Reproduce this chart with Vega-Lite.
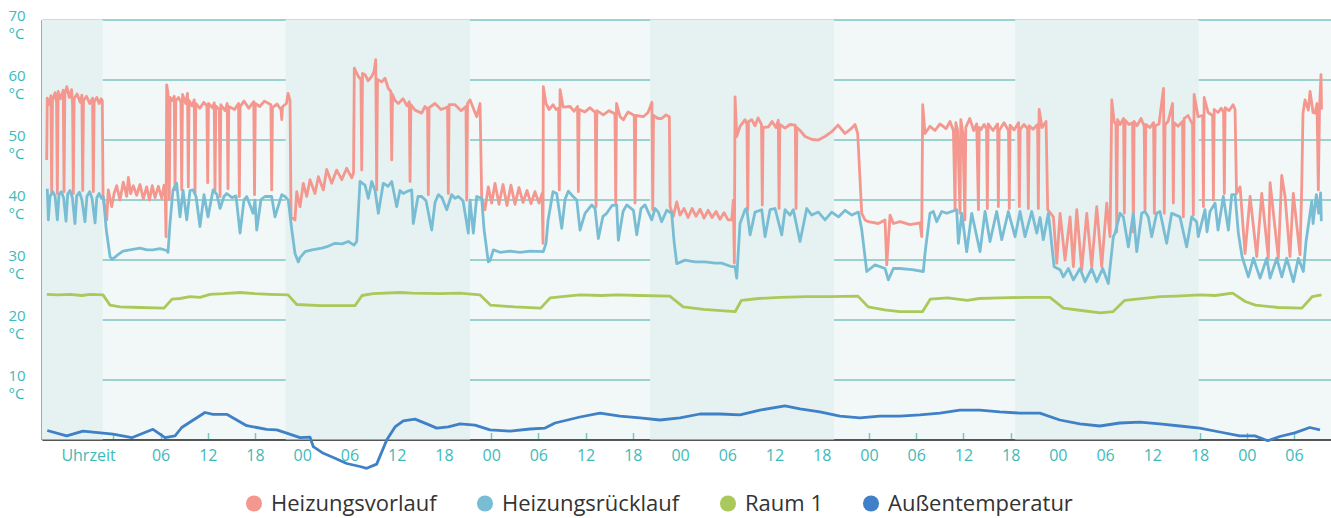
{
"$schema":"https://vega.github.io/schema/vega-lite/v6.json",
"width":1289,"height":420,
"autosize":{"type":"none"},
"padding":{"left":42,"top":19.5,"right":0,"bottom":78.5},
"background":"white",
"config":{"view":{"stroke":null,"fill":"#F2F8F7"},"font":"Open Sans"},
"layer":[
{"data":{"values":[{"a":-9.06,"b":-1.35},{"a":21.9,"b":45.32},{"a":68.19,"b":91.57},{"a":114.57,"b":137.88}]},
"mark":{"type":"rect","color":"#E5F2F1"},
"encoding":{"x":{"field":"a","type":"quantitative","scale":{"domain":[-9.06,154.7],"nice":false,"zero":false},
"axis":{"values":[-6,0,6,12,18,24,30,36,42,48,54,60,66,72,78,84,90,96,102,108,114,120,126,132,138,144,150],
"labelExpr":"datum.value < 1 ? '' : format(((datum.value % 24) + 24) % 24, '02d')",
"title":"Uhrzeit","titleX":46,"titleY":16,"titleAlign":"center","titleBaseline":"middle","titleAnchor":"start","titleFontWeight":"normal","titleFontSize":16,"titleColor":"#3DBABA",
"labelColor":"#3DBABA","labelFontSize":16,"labelPadding":15,"tickColor":"#7CC6C2","tickSize":-7,"tickWidth":1.5,"domainColor":"#555","domainWidth":2,"grid":false,"labelOverlap":false,"labelFlush":false}},
"x2":{"field":"b"}}},
{"data":{"values":[
{"h":-8.46,"V":46.6},{"h":-8.39,"V":56.9},{"h":-8.1,"V":55.8},{"h":-7.93,"V":57.3},{"h":-7.83,"V":41.2},{"h":-7.73,"V":56.5},{"h":-7.4,"V":57.8},{"h":-7.21,"V":56.2},{"h":-7.11,"V":41.0},{"h":-7.01,"V":58.0},{"h":-6.7,"V":56.8},{"h":-6.36,"V":58.2},{"h":-6.26,"V":41.3},{"h":-6.16,"V":57.5},{"h":-5.9,"V":58.8},{"h":-5.6,"V":57.0},{"h":-5.3,"V":58.3},{"h":-5.18,"V":56.0},{"h":-5.08,"V":41.0},{"h":-4.98,"V":56.8},{"h":-4.6,"V":57.6},{"h":-4.2,"V":56.2},{"h":-3.99,"V":57.4},{"h":-3.89,"V":41.5},{"h":-3.79,"V":56.5},{"h":-3.4,"V":57.2},{"h":-3.0,"V":56.0},{"h":-2.64,"V":56.9},{"h":-2.54,"V":41.3},{"h":-2.44,"V":56.3},{"h":-2.1,"V":57.0},{"h":-1.8,"V":56.0},{"h":-1.55,"V":56.8},{"h":-1.4,"V":56.5},{"h":-1.3,"V":40.5},
{"h":-0.84,"V":36.6},{"h":-0.64,"V":41.6},{"h":-0.2,"V":38.8},{"h":0.1,"V":41.0},{"h":0.43,"V":42.3},{"h":0.85,"V":39.9},{"h":1.27,"V":42.9},{"h":1.7,"V":40.5},{"h":1.91,"V":43.7},{"h":2.2,"V":41.0},{"h":2.54,"V":42.3},{"h":2.97,"V":40.7},{"h":3.39,"V":42.5},{"h":3.81,"V":40.1},{"h":4.24,"V":42.1},{"h":4.6,"V":39.9},{"h":4.95,"V":42.3},{"h":5.3,"V":40.3},{"h":5.72,"V":42.2},{"h":6.15,"V":40.2},{"h":6.45,"V":42.4},{"h":6.6,"V":40.5},{"h":6.7,"V":33.8},{"h":6.78,"V":59.1},
{"h":6.95,"V":57.7},{"h":7.11,"V":40.0},{"h":7.22,"V":57.0},{"h":7.5,"V":56.5},{"h":7.74,"V":57.2},{"h":7.84,"V":41.6},{"h":7.94,"V":56.5},{"h":8.3,"V":57.0},{"h":8.59,"V":56.2},{"h":8.69,"V":41.6},{"h":8.79,"V":57.5},{"h":9.2,"V":56.0},{"h":9.43,"V":57.7},{"h":9.53,"V":42.1},{"h":9.63,"V":56.5},{"h":10.0,"V":55.6},{"h":10.28,"V":56.6},{"h":10.38,"V":41.0},{"h":10.48,"V":56.0},{"h":11.0,"V":55.2},{"h":11.5,"V":56.2},{"h":11.89,"V":55.6},{"h":11.99,"V":42.8},{"h":12.09,"V":56.0},{"h":12.6,"V":55.3},{"h":12.82,"V":56.1},{"h":12.92,"V":41.5},{"h":13.02,"V":55.6},{"h":13.46,"V":55.0},{"h":13.56,"V":40.5},{"h":13.66,"V":55.8},{"h":14.2,"V":54.8},{"h":14.47,"V":56.0},{"h":14.57,"V":41.8},{"h":14.67,"V":55.5},{"h":15.4,"V":55.0},{"h":15.91,"V":56.0},{"h":16.01,"V":40.5},{"h":16.11,"V":55.5},{"h":16.6,"V":56.4},{"h":17.2,"V":55.2},{"h":17.84,"V":56.3},{"h":17.94,"V":40.8},{"h":18.04,"V":56.0},{"h":18.6,"V":55.5},{"h":19.2,"V":56.4},{"h":20.02,"V":55.8},{"h":20.12,"V":41.6},{"h":20.22,"V":55.3},{"h":20.8,"V":55.9},{"h":21.3,"V":55.0},{"h":21.4,"V":53.3},{"h":21.5,"V":55.5},{"h":22.0,"V":56.0},{"h":22.2,"V":57.7},{"h":22.45,"V":56.5},{"h":22.58,"V":37.1},
{"h":23.08,"V":36.6},{"h":23.3,"V":41.3},{"h":23.72,"V":38.8},{"h":24.14,"V":42.7},{"h":24.57,"V":40.5},{"h":24.99,"V":43.3},{"h":25.62,"V":41.0},{"h":26.05,"V":43.8},{"h":26.68,"V":41.6},{"h":27.11,"V":45.0},{"h":27.75,"V":42.7},{"h":28.38,"V":44.9},{"h":29.02,"V":43.3},{"h":29.65,"V":45.2},{"h":30.29,"V":43.6},{"h":30.52,"V":44.5},{"h":30.62,"V":61.9},
{"h":31.13,"V":60.5},{"h":31.46,"V":60.0},{"h":31.56,"V":44.9},{"h":31.66,"V":61.0},{"h":31.98,"V":60.8},{"h":32.36,"V":59.8},{"h":32.83,"V":60.5},{"h":33.12,"V":61.3},{"h":33.34,"V":63.3},{"h":33.46,"V":41.6},{"h":33.56,"V":60.0},{"h":34.1,"V":59.6},{"h":34.52,"V":60.2},{"h":34.94,"V":58.5},{"h":35.27,"V":58.0},{"h":35.37,"V":46.6},{"h":35.47,"V":57.5},{"h":35.79,"V":56.5},{"h":36.21,"V":56.0},{"h":36.81,"V":56.8},{"h":37.31,"V":55.6},{"h":37.6,"V":56.3},{"h":37.7,"V":43.0},{"h":37.8,"V":55.8},{"h":38.33,"V":54.9},{"h":39.18,"V":54.4},{"h":39.6,"V":55.5},{"h":39.92,"V":55.0},{"h":40.02,"V":40.8},{"h":40.12,"V":55.3},{"h":40.87,"V":56.0},{"h":41.63,"V":55.0},{"h":42.46,"V":55.4},{"h":42.56,"V":41.0},{"h":42.66,"V":55.8},{"h":43.41,"V":55.8},{"h":44.18,"V":54.8},{"h":44.8,"V":55.5},{"h":44.9,"V":39.9},{"h":45.0,"V":56.0},{"h":45.32,"V":56.6},{"h":46.17,"V":53.8},{"h":46.59,"V":56.0},{"h":46.8,"V":40.3},
{"h":47.22,"V":38.3},{"h":47.64,"V":42.1},{"h":48.07,"V":39.4},{"h":48.49,"V":42.7},{"h":49.0,"V":39.2},{"h":49.51,"V":42.5},{"h":50.01,"V":39.0},{"h":50.52,"V":42.4},{"h":51.03,"V":39.2},{"h":51.54,"V":42.0},{"h":52.05,"V":39.5},{"h":52.56,"V":41.5},{"h":53.06,"V":39.3},{"h":53.57,"V":41.3},{"h":54.08,"V":39.4},{"h":54.47,"V":41.0},{"h":54.59,"V":32.7},{"h":54.63,"V":58.8},
{"h":54.97,"V":56.0},{"h":55.36,"V":55.0},{"h":55.87,"V":55.8},{"h":56.25,"V":55.0},{"h":56.56,"V":55.2},{"h":56.66,"V":41.6},{"h":56.76,"V":58.3},{"h":57.14,"V":55.4},{"h":58.03,"V":55.5},{"h":58.54,"V":54.7},{"h":58.98,"V":55.5},{"h":59.08,"V":41.3},{"h":59.18,"V":55.0},{"h":59.92,"V":54.6},{"h":60.56,"V":55.3},{"h":61.23,"V":54.5},{"h":61.33,"V":38.8},{"h":61.43,"V":54.8},{"h":62.25,"V":54.1},{"h":62.98,"V":54.8},{"h":63.73,"V":54.3},{"h":63.83,"V":39.4},{"h":63.93,"V":56.0},{"h":64.38,"V":53.8},{"h":64.8,"V":53.3},{"h":65.39,"V":54.6},{"h":66.18,"V":54.0},{"h":66.28,"V":39.4},{"h":66.38,"V":54.0},{"h":67.34,"V":53.8},{"h":67.93,"V":54.5},{"h":68.43,"V":56.2},{"h":68.53,"V":38.3},{"h":68.63,"V":54.0},{"h":69.2,"V":53.5},{"h":69.67,"V":53.5},{"h":70.22,"V":54.1},{"h":70.64,"V":53.8},{"h":70.74,"V":38.8},
{"h":71.15,"V":37.2},{"h":71.58,"V":39.6},{"h":72.0,"V":37.4},{"h":72.51,"V":38.5},{"h":73.02,"V":37.0},{"h":73.53,"V":38.5},{"h":74.03,"V":37.2},{"h":74.54,"V":38.4},{"h":75.05,"V":36.9},{"h":75.56,"V":38.2},{"h":76.07,"V":37.0},{"h":76.57,"V":38.0},{"h":77.08,"V":36.7},{"h":77.59,"V":37.8},{"h":78.1,"V":36.6},{"h":78.57,"V":36.6},{"h":78.77,"V":39.9},{"h":78.9,"V":29.4},{"h":78.99,"V":57.1},
{"h":79.2,"V":50.5},{"h":79.62,"V":52.2},{"h":80.26,"V":53.3},{"h":80.5,"V":52.5},{"h":80.6,"V":38.3},{"h":80.7,"V":53.0},{"h":81.11,"V":53.3},{"h":81.53,"V":52.3},{"h":81.91,"V":53.6},{"h":82.35,"V":52.5},{"h":82.45,"V":39.1},{"h":82.55,"V":52.0},{"h":83.22,"V":52.1},{"h":83.69,"V":53.0},{"h":84.19,"V":52.0},{"h":84.48,"V":53.2},{"h":84.58,"V":38.5},{"h":84.68,"V":52.5},{"h":85.34,"V":51.9},{"h":85.97,"V":52.5},{"h":86.64,"V":52.4},{"h":86.74,"V":38.5},{"h":86.84,"V":52.0},{"h":87.25,"V":51.5},{"h":87.89,"V":50.5},{"h":88.78,"V":50.0},{"h":89.57,"V":49.9},{"h":90.42,"V":50.5},{"h":91.27,"V":51.3},{"h":92.07,"V":52.4},{"h":92.96,"V":51.0},{"h":93.81,"V":51.9},{"h":94.23,"V":52.5},{"h":94.57,"V":51.0},{"h":95.08,"V":37.7},
{"h":95.5,"V":36.6},{"h":95.92,"V":36.3},{"h":97.19,"V":36.0},{"h":98.04,"V":36.6},{"h":98.26,"V":29.1},{"h":98.68,"V":37.4},{"h":99.1,"V":36.0},{"h":99.95,"V":36.3},{"h":101.22,"V":35.8},{"h":102.49,"V":36.1},{"h":102.7,"V":33.8},{"h":102.83,"V":55.8},{"h":103.12,"V":51.0},
{"h":103.75,"V":52.2},{"h":104.39,"V":51.5},{"h":105.02,"V":52.6},{"h":105.79,"V":51.8},{"h":106.3,"V":53.0},{"h":106.73,"V":51.5},{"h":106.94,"V":38.3},{"h":107.04,"V":52.8},{"h":107.26,"V":51.5},{"h":107.57,"V":37.7},{"h":107.67,"V":53.3},{"h":107.93,"V":51.0},{"h":108.19,"V":36.6},{"h":108.3,"V":52.0},{"h":108.8,"V":53.5},{"h":109.31,"V":51.5},{"h":109.69,"V":52.6},{"h":109.91,"V":38.3},{"h":110.01,"V":52.0},{"h":110.2,"V":51.6},{"h":110.62,"V":52.5},{"h":110.94,"V":51.8},{"h":111.04,"V":38.5},{"h":111.14,"V":52.6},{"h":111.76,"V":51.5},{"h":112.34,"V":52.6},{"h":112.44,"V":38.8},{"h":112.54,"V":51.5},{"h":113.16,"V":52.8},{"h":113.73,"V":51.5},{"h":113.83,"V":38.5},{"h":113.93,"V":52.4},{"h":114.43,"V":51.6},{"h":115.01,"V":52.8},{"h":115.11,"V":38.8},{"h":115.21,"V":51.7},{"h":115.7,"V":52.5},{"h":116.15,"V":51.8},{"h":116.25,"V":38.5},{"h":116.35,"V":52.3},{"h":116.85,"V":51.7},{"h":117.42,"V":52.5},{"h":117.52,"V":38.5},{"h":117.62,"V":55.0},{"h":117.99,"V":52.0},{"h":118.5,"V":53.0},{"h":118.71,"V":38.3},
{"h":119.43,"V":37.1},{"h":119.86,"V":29.4},{"h":120.28,"V":37.7},{"h":120.91,"V":29.9},{"h":121.55,"V":37.1},{"h":121.97,"V":28.8},{"h":122.4,"V":38.3},{"h":123.03,"V":28.3},{"h":123.67,"V":37.7},{"h":124.3,"V":28.8},{"h":124.94,"V":38.8},{"h":125.57,"V":28.8},{"h":126.21,"V":39.4},{"h":126.63,"V":33.8},{"h":126.85,"V":56.6},
{"h":127.14,"V":53.0},{"h":127.38,"V":52.5},{"h":127.48,"V":34.6},{"h":127.58,"V":53.3},{"h":127.9,"V":52.5},{"h":128.35,"V":53.5},{"h":128.45,"V":37.7},{"h":128.55,"V":53.2},{"h":129.04,"V":52.5},{"h":129.49,"V":52.8},{"h":129.59,"V":34.6},{"h":129.69,"V":53.0},{"h":130.06,"V":52.3},{"h":130.57,"V":53.5},{"h":130.97,"V":52.2},{"h":131.07,"V":38.3},{"h":131.17,"V":52.5},{"h":131.71,"V":52.0},{"h":132.16,"V":52.8},{"h":132.26,"V":37.7},{"h":132.36,"V":52.3},{"h":132.85,"V":52.6},{"h":133.42,"V":58.5},{"h":133.52,"V":37.7},{"h":133.62,"V":52.5},{"h":134.0,"V":53.0},{"h":134.57,"V":56.0},{"h":134.67,"V":39.4},{"h":134.77,"V":52.8},{"h":135.27,"V":52.2},{"h":135.84,"V":53.0},{"h":135.94,"V":37.1},{"h":136.04,"V":53.5},{"h":136.54,"V":54.0},{"h":137.11,"V":52.5},{"h":137.21,"V":37.4},{"h":137.31,"V":57.5},{"h":137.81,"V":53.8},{"h":138.39,"V":54.0},{"h":138.49,"V":38.8},{"h":138.59,"V":57.0},{"h":139.09,"V":54.5},{"h":139.66,"V":54.0},{"h":139.76,"V":39.9},{"h":139.86,"V":55.0},{"h":140.36,"V":54.5},{"h":140.74,"V":55.2},{"h":141.05,"V":54.6},{"h":141.15,"V":41.0},{"h":141.25,"V":55.3},{"h":141.75,"V":54.8},{"h":142.26,"V":55.8},{"h":142.51,"V":55.0},{"h":142.7,"V":41.0},
{"h":143.15,"V":42.1},{"h":143.78,"V":31.0},{"h":144.42,"V":40.5},{"h":145.27,"V":30.5},{"h":145.9,"V":41.0},{"h":146.74,"V":30.2},{"h":146.96,"V":42.8},{"h":148.01,"V":30.2},{"h":148.44,"V":44.0},{"h":148.86,"V":40.5},{"h":149.49,"V":30.5},{"h":149.91,"V":41.0},{"h":150.76,"V":30.8},{"h":150.98,"V":42.0},
{"h":151.14,"V":54.4},{"h":151.4,"V":56.6},{"h":151.82,"V":54.9},{"h":152.04,"V":58.0},{"h":152.42,"V":54.5},{"h":152.67,"V":54.4},{"h":152.92,"V":56.0},{"h":153.09,"V":41.6},{"h":153.24,"V":55.0},{"h":153.43,"V":60.8},{"h":153.5,"V":55.0},
{"h":-8.39,"R":41.8},{"h":-8.25,"R":36.6},{"h":-8.05,"R":40.5},{"h":-7.7,"R":41.3},{"h":-7.4,"R":40.6},{"h":-7.11,"R":36.6},{"h":-6.9,"R":40.8},{"h":-6.6,"R":41.3},{"h":-6.3,"R":40.2},{"h":-6.01,"R":36.4},{"h":-5.8,"R":40.9},{"h":-5.5,"R":41.5},{"h":-5.2,"R":40.3},{"h":-4.87,"R":36.0},{"h":-4.65,"R":40.6},{"h":-4.3,"R":41.2},{"h":-4.0,"R":40.0},{"h":-3.6,"R":36.3},{"h":-3.35,"R":40.5},{"h":-3.0,"R":41.3},{"h":-2.7,"R":40.2},{"h":-2.32,"R":36.1},{"h":-2.1,"R":40.3},{"h":-1.8,"R":41.0},{"h":-1.5,"R":40.2},{"h":-1.27,"R":40.5},{"h":-0.9,"R":35.0},{"h":-0.42,"R":30.5},{"h":-0.17,"R":30.0},{"h":0.22,"R":30.4},{"h":0.6,"R":30.8},{"h":1.23,"R":31.4},{"h":2.12,"R":31.6},{"h":3.39,"R":31.9},{"h":4.28,"R":31.6},{"h":5.04,"R":31.6},{"h":5.93,"R":31.8},{"h":6.78,"R":31.5},{"h":6.95,"R":31.2},{"h":7.2,"R":36.0},{"h":7.58,"R":41.6},{"h":8.05,"R":42.7},{"h":8.47,"R":37.1},{"h":8.86,"R":41.5},{"h":9.33,"R":36.6},{"h":9.74,"R":41.5},{"h":10.13,"R":41.6},{"h":10.51,"R":40.5},{"h":11.01,"R":35.5},{"h":11.52,"R":40.8},{"h":12.03,"R":37.1},{"h":12.67,"R":41.6},{"h":13.17,"R":40.8},{"h":13.56,"R":38.5},{"h":14.06,"R":40.5},{"h":14.41,"R":41.0},{"h":15.08,"R":40.3},{"h":15.59,"R":40.6},{"h":16.1,"R":34.4},{"h":16.6,"R":39.9},{"h":16.95,"R":40.5},{"h":17.75,"R":37.7},{"h":18.0,"R":39.9},{"h":18.22,"R":34.9},{"h":18.76,"R":40.0},{"h":19.27,"R":40.5},{"h":20.12,"R":40.5},{"h":20.54,"R":37.1},{"h":21.4,"R":40.8},{"h":21.81,"R":40.5},{"h":22.23,"R":39.9},{"h":22.67,"R":35.0},{"h":23.08,"R":31.0},{"h":23.5,"R":29.6},{"h":23.72,"R":30.3},{"h":24.36,"R":31.3},{"h":25.24,"R":31.6},{"h":26.48,"R":31.9},{"h":27.28,"R":32.2},{"h":28.17,"R":32.7},{"h":29.06,"R":32.6},{"h":29.86,"R":33.0},{"h":30.58,"R":32.4},{"h":30.92,"R":33.0},{"h":31.34,"R":43.0},{"h":31.98,"R":42.4},{"h":32.4,"R":40.2},{"h":32.83,"R":43.0},{"h":33.25,"R":41.5},{"h":33.67,"R":37.7},{"h":34.3,"R":42.7},{"h":34.9,"R":42.2},{"h":35.37,"R":43.0},{"h":36.0,"R":38.8},{"h":36.42,"R":41.5},{"h":36.84,"R":41.0},{"h":37.44,"R":41.4},{"h":37.91,"R":41.6},{"h":38.11,"R":36.0},{"h":38.71,"R":40.5},{"h":39.18,"R":40.5},{"h":39.73,"R":39.8},{"h":40.45,"R":34.9},{"h":40.87,"R":39.5},{"h":41.29,"R":40.8},{"h":41.76,"R":40.3},{"h":42.36,"R":38.3},{"h":42.99,"R":40.8},{"h":43.41,"R":40.2},{"h":43.83,"R":40.5},{"h":44.43,"R":39.8},{"h":45.1,"R":34.4},{"h":45.32,"R":39.9},{"h":45.74,"R":34.4},{"h":46.17,"R":40.5},{"h":46.8,"R":40.2},{"h":47.1,"R":35.0},{"h":47.64,"R":29.6},{"h":47.86,"R":29.8},{"h":48.28,"R":31.6},{"h":49.13,"R":31.2},{"h":50.4,"R":31.4},{"h":51.67,"R":31.2},{"h":52.94,"R":31.4},{"h":54.63,"R":31.3},{"h":54.97,"R":32.7},{"h":55.23,"R":36.5},{"h":55.86,"R":41.3},{"h":56.33,"R":41.0},{"h":56.97,"R":35.2},{"h":57.39,"R":40.0},{"h":57.81,"R":41.4},{"h":58.41,"R":40.5},{"h":58.88,"R":39.9},{"h":59.29,"R":34.9},{"h":59.93,"R":37.7},{"h":60.78,"R":39.1},{"h":61.2,"R":38.5},{"h":61.62,"R":33.5},{"h":62.21,"R":37.2},{"h":62.68,"R":37.7},{"h":63.36,"R":39.0},{"h":63.95,"R":39.1},{"h":64.16,"R":33.2},{"h":64.76,"R":38.0},{"h":65.23,"R":39.1},{"h":66.08,"R":38.2},{"h":66.5,"R":34.1},{"h":67.04,"R":38.5},{"h":67.55,"R":39.1},{"h":68.4,"R":36.6},{"h":68.82,"R":38.5},{"h":69.24,"R":37.9},{"h":69.67,"R":36.3},{"h":70.31,"R":38.2},{"h":70.94,"R":37.7},{"h":71.24,"R":33.0},{"h":71.58,"R":29.3},{"h":72.63,"R":29.9},{"h":73.9,"R":29.6},{"h":75.17,"R":29.6},{"h":76.45,"R":29.4},{"h":77.3,"R":29.4},{"h":78.57,"R":28.8},{"h":78.99,"R":28.8},{"h":79.2,"R":26.9},{"h":79.62,"R":36.0},{"h":80.26,"R":38.3},{"h":80.47,"R":38.5},{"h":80.9,"R":34.1},{"h":81.53,"R":37.9},{"h":82.38,"R":38.3},{"h":82.8,"R":33.8},{"h":83.43,"R":38.3},{"h":84.07,"R":38.5},{"h":84.92,"R":34.1},{"h":85.34,"R":38.3},{"h":85.97,"R":37.4},{"h":86.39,"R":38.3},{"h":87.24,"R":33.0},{"h":88.1,"R":38.5},{"h":88.73,"R":37.4},{"h":89.57,"R":37.9},{"h":90.42,"R":36.6},{"h":91.27,"R":37.9},{"h":92.12,"R":37.1},{"h":92.97,"R":38.2},{"h":93.82,"R":37.4},{"h":94.66,"R":37.9},{"h":95.08,"R":35.0},{"h":95.72,"R":28.0},{"h":96.77,"R":29.1},{"h":98.04,"R":28.5},{"h":98.46,"R":26.6},{"h":99.1,"R":28.5},{"h":99.95,"R":28.5},{"h":101.47,"R":28.3},{"h":102.91,"R":28.0},{"h":103.12,"R":31.0},{"h":103.75,"R":37.7},{"h":104.18,"R":38.0},{"h":104.61,"R":36.3},{"h":105.24,"R":38.0},{"h":105.88,"R":37.7},{"h":106.51,"R":38.0},{"h":107.15,"R":38.3},{"h":107.36,"R":32.7},{"h":107.79,"R":37.7},{"h":108.42,"R":31.3},{"h":109.06,"R":37.7},{"h":110.11,"R":31.3},{"h":110.75,"R":38.0},{"h":111.38,"R":33.0},{"h":112.23,"R":38.0},{"h":112.87,"R":33.3},{"h":113.71,"R":38.0},{"h":114.56,"R":33.8},{"h":115.2,"R":38.0},{"h":115.83,"R":33.8},{"h":116.68,"R":38.0},{"h":117.32,"R":34.4},{"h":117.74,"R":37.0},{"h":118.15,"R":33.3},{"h":118.79,"R":37.7},{"h":119.14,"R":33.5},{"h":119.52,"R":28.8},{"h":120.28,"R":28.3},{"h":120.7,"R":27.1},{"h":121.34,"R":28.5},{"h":121.97,"R":26.6},{"h":122.82,"R":28.5},{"h":123.45,"R":26.3},{"h":124.3,"R":28.5},{"h":124.94,"R":26.3},{"h":125.7,"R":28.5},{"h":126.41,"R":26.0},{"h":127.05,"R":33.8},{"h":127.27,"R":34.4},{"h":127.9,"R":37.7},{"h":128.32,"R":37.1},{"h":128.96,"R":32.1},{"h":129.59,"R":37.7},{"h":130.02,"R":31.3},{"h":130.65,"R":37.7},{"h":131.07,"R":38.0},{"h":131.49,"R":37.1},{"h":131.92,"R":33.8},{"h":132.55,"R":37.7},{"h":132.97,"R":38.0},{"h":133.82,"R":32.7},{"h":134.46,"R":37.7},{"h":135.51,"R":37.1},{"h":136.36,"R":32.1},{"h":137.0,"R":37.1},{"h":137.63,"R":36.3},{"h":137.84,"R":33.8},{"h":138.69,"R":38.3},{"h":138.95,"R":34.6},{"h":139.33,"R":38.0},{"h":139.97,"R":39.4},{"h":140.35,"R":34.9},{"h":141.02,"R":40.5},{"h":141.66,"R":34.9},{"h":142.09,"R":40.8},{"h":142.51,"R":40.8},{"h":142.93,"R":34.4},{"h":143.4,"R":30.5},{"h":144.2,"R":27.1},{"h":144.84,"R":30.2},{"h":145.69,"R":26.9},{"h":146.54,"R":30.2},{"h":146.96,"R":26.9},{"h":147.81,"R":30.2},{"h":148.45,"R":27.1},{"h":149.08,"R":30.2},{"h":149.92,"R":26.3},{"h":150.55,"R":30.2},{"h":151.19,"R":28.0},{"h":151.53,"R":33.0},{"h":152.26,"R":39.7},{"h":152.42,"R":36.0},{"h":152.84,"R":40.8},{"h":153.13,"R":37.7},{"h":153.38,"R":41.1},{"h":153.47,"R":36.4},
{"h":-8.45,"A":24.2},{"h":-7,"A":24.1},{"h":-5.5,"A":24.2},{"h":-4,"A":24.0},{"h":-2.96,"A":24.2},{"h":-1.31,"A":24.1},{"h":-0.42,"A":22.4},{"h":0.85,"A":22.1},{"h":3.39,"A":22.0},{"h":6.44,"A":21.9},{"h":7.46,"A":23.4},{"h":8.5,"A":23.5},{"h":9.74,"A":23.8},{"h":11,"A":23.7},{"h":12.28,"A":24.2},{"h":14,"A":24.3},{"h":16.1,"A":24.5},{"h":18,"A":24.3},{"h":19.9,"A":24.2},{"h":22.2,"A":24.1},{"h":23.3,"A":22.5},{"h":26.3,"A":22.3},{"h":30.7,"A":22.3},{"h":31.6,"A":24.0},{"h":33,"A":24.3},{"h":36.4,"A":24.5},{"h":38,"A":24.4},{"h":41.5,"A":24.3},{"h":44,"A":24.4},{"h":46.6,"A":24.1},{"h":47.9,"A":22.4},{"h":51,"A":22.1},{"h":54.3,"A":21.9},{"h":55.5,"A":23.6},{"h":57,"A":23.8},{"h":59.3,"A":24.1},{"h":62,"A":24.0},{"h":64,"A":24.1},{"h":66.9,"A":24.0},{"h":70.7,"A":23.9},{"h":72.4,"A":22.1},{"h":75,"A":21.7},{"h":79.0,"A":21.3},{"h":79.8,"A":23.2},{"h":82,"A":23.5},{"h":84.7,"A":23.7},{"h":88,"A":23.8},{"h":91,"A":23.8},{"h":94.6,"A":23.9},{"h":95.9,"A":22.1},{"h":98,"A":21.6},{"h":99.9,"A":21.3},{"h":102.8,"A":21.3},{"h":103.8,"A":23.4},{"h":106,"A":23.6},{"h":108.5,"A":23.2},{"h":110,"A":23.5},{"h":112.6,"A":23.6},{"h":116,"A":23.7},{"h":119.0,"A":23.7},{"h":120.7,"A":21.9},{"h":123,"A":21.5},{"h":125.4,"A":21.1},{"h":127.0,"A":21.3},{"h":128.5,"A":23.2},{"h":130,"A":23.4},{"h":133.0,"A":23.8},{"h":135,"A":23.9},{"h":138.1,"A":24.1},{"h":140,"A":24.0},{"h":142.2,"A":24.4},{"h":143.8,"A":23.0},{"h":145.1,"A":22.4},{"h":148,"A":22.0},{"h":151.0,"A":21.9},{"h":152.3,"A":23.8},{"h":153.5,"A":24.1},
{"h":-8.39,"O":1.5},{"h":-5.92,"O":0.6},{"h":-3.85,"O":1.4},{"h":-0.04,"O":0.9},{"h":2.34,"O":0.3},{"h":5.04,"O":1.7},{"h":6.57,"O":0.3},{"h":7.84,"O":0.6},{"h":8.69,"O":2.0},{"h":10.16,"O":3.25},{"h":11.65,"O":4.5},{"h":12.67,"O":4.2},{"h":14.41,"O":4.2},{"h":15.68,"O":3.25},{"h":16.95,"O":2.3},{"h":18.22,"O":2.0},{"h":19.49,"O":1.7},{"h":20.76,"O":1.6},{"h":22.03,"O":1.05},{"h":23.72,"O":0.3},{"h":24.99,"O":0.4},{"h":25.41,"O":-1.2},{"h":26.68,"O":-2.3},{"h":27.95,"O":-3.0},{"h":29.65,"O":-4.0},{"h":31.34,"O":-4.5},{"h":32.19,"O":-4.8},{"h":33.46,"O":-4.1},{"h":34.73,"O":-0.1},{"h":35.79,"O":2.1},{"h":36.84,"O":3.1},{"h":38.33,"O":3.4},{"h":39.82,"O":2.6},{"h":41.09,"O":1.9},{"h":42.56,"O":2.1},{"h":44.05,"O":2.6},{"h":45.95,"O":2.4},{"h":47.86,"O":1.6},{"h":50.4,"O":1.4},{"h":52.94,"O":1.75},{"h":54.85,"O":1.9},{"h":56.12,"O":2.75},{"h":59.29,"O":3.75},{"h":61.83,"O":4.4},{"h":64.37,"O":3.9},{"h":66.91,"O":3.6},{"h":69.45,"O":3.25},{"h":71.99,"O":3.6},{"h":74.53,"O":4.25},{"h":77.07,"O":4.25},{"h":79.61,"O":4.1},{"h":82.15,"O":4.9},{"h":85.33,"O":5.6},{"h":87.23,"O":5.1},{"h":89.77,"O":4.6},{"h":92.31,"O":3.9},{"h":94.85,"O":3.6},{"h":97.39,"O":3.9},{"h":99.93,"O":3.9},{"h":102.47,"O":4.1},{"h":105.01,"O":4.4},{"h":107.55,"O":4.9},{"h":110.09,"O":4.9},{"h":112.63,"O":4.6},{"h":115.17,"O":4.4},{"h":117.71,"O":4.4},{"h":120.25,"O":3.25},{"h":122.79,"O":2.6},{"h":125.33,"O":2.25},{"h":127.87,"O":2.75},{"h":130.41,"O":2.9},{"h":132.95,"O":2.6},{"h":135.49,"O":2.25},{"h":138.03,"O":1.9},{"h":140.57,"O":1.25},{"h":143.11,"O":0.6},{"h":145.02,"O":0.6},{"h":146.67,"O":-0.2},{"h":148.19,"O":0.5},{"h":150.1,"O":1.1},{"h":152.0,"O":2.0},{"h":153.3,"O":1.6}
]},
"transform":[{"fold":["V","R","A","O"],"as":["k","v"]},{"filter":"isValid(datum.v)"}],
"mark":{"type":"line","strokeWidth":2.8,"strokeJoin":"round","clip":false},
"encoding":{
"x":{"field":"h","type":"quantitative"},
"y":{"field":"v","type":"quantitative","scale":{"domain":[0,70],"nice":false,"zero":false},
"axis":{"values":[0,10,20,30,40,50,60,70],"labelExpr":"datum.value == 0 ? '' : [datum.label, '°C']","labelAlign":"left","labelPadding":34,"labelBaseline":"middle","labelLineHeight":18,"labelFontSize":15,"labelOffset":-4.5,"labelColor":"#3DBABA","ticks":false,"domainColor":"#555","domainWidth":2,"gridColor":"#7CC6C2","gridWidth":1.5,"title":null,"minExtent":42,"maxExtent":42,"labelOverlap":false}},
"color":{"field":"k","type":"nominal","scale":{"domain":["V","R","A","O"],"range":["#F4978E","#79BDD4","#A9C95A","#3F80C6"]},
"legend":{"orient":"none","legendX":201,"legendY":473,"direction":"horizontal","title":null,
"labelExpr":"datum.label == 'V' ? 'Heizungsvorlauf' : datum.label == 'R' ? 'Heizungsrücklauf' : datum.label == 'A' ? 'Raum 1' : 'Außentemperatur'",
"symbolType":"circle","symbolSize":260,"symbolStrokeWidth":0,"labelFontSize":22,"labelLimit":0,"labelColor":"#333","columnPadding":37,"labelOffset":6,
"encode":{"symbols":{"update":{"fill":{"scale":"color","field":"value"},"fillOpacity":{"value":1}}}}}}
}}
]
}
